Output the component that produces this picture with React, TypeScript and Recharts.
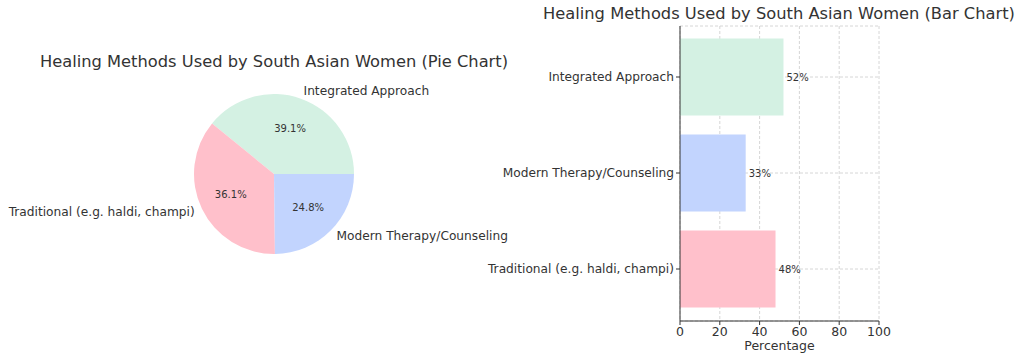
import {
  PieChart, Pie, Cell, BarChart, Bar, XAxis, YAxis, CartesianGrid, LabelList,
} from 'recharts';

const methods = [
  'Traditional (e.g. haldi, champi)',
  'Modern Therapy/Counseling',
  'Integrated Approach',
];
const percentages = [48, 33, 52];
const colors = ['#ffc0cb', '#c2d4fe', '#d4f1e3'];
// pie slices go counter-clockwise from 3 o'clock in this order
const pieOrder = [2, 0, 1];
const xTicks = [0, 20, 40, 60, 80, 100];

const FONT = '"DejaVu Sans", Verdana, sans-serif';
const TEXT = '#333333';

const pieData = pieOrder.map(i => ({ name: methods[i], value: percentages[i], color: colors[i] }));
// vertical bar chart lists first row at top
const barData = methods.map((m, i) => ({ name: m, value: percentages[i], color: colors[i] })).reverse();

const RAD = Math.PI / 180;

const renderPieLabel = (p: any) => {
  const { cx, cy, midAngle, outerRadius, percent, name } = p;
  const cos = Math.cos(-midAngle * RAD);
  const sin = Math.sin(-midAngle * RAD);
  const ox = cx + outerRadius * 1.1 * cos;
  const oy = cy + outerRadius * 1.1 * sin;
  const ix = cx + outerRadius * 0.6 * cos;
  const iy = cy + outerRadius * 0.6 * sin;
  return (
    <g>
      <text x={ox} y={oy} textAnchor={cos >= 0 ? 'start' : 'end'} dominantBaseline="central"
        fontSize={12.2} fill={TEXT} fontFamily={FONT}>{name}</text>
      <text x={ix} y={iy} textAnchor="middle" dominantBaseline="central"
        fontSize={10} fill={TEXT} fontFamily={FONT}>{(percent * 100).toFixed(1)}%</text>
    </g>
  );
};

const CategoryTick = (p: any) => {
  const { x, y, payload } = p;
  return (
    <text x={x} y={y} textAnchor="end" dominantBaseline="central"
      fontSize={12.2} fill={TEXT} fontFamily={FONT}>{payload.value}</text>
  );
};

const Title = ({ text, center, top }: { text: string; center: number; top: number }) => (
  <div style={{
    position: 'absolute', left: center - 300, width: 600, top, textAlign: 'center',
    fontFamily: FONT, fontSize: 16.3, lineHeight: '20px', color: TEXT, whiteSpace: 'nowrap',
  }}>{text}</div>
);

export default function App() {
  return (
    <div style={{ position: 'absolute', left: 0, top: 0, width: 1024, height: 361, background: '#fff', overflow: 'hidden' }}>
      <div style={{ position: 'absolute', left: 0, top: 0 }}>
        <PieChart width={540} height={361} margin={{ top: 0, right: 0, bottom: 0, left: 0 }}>
          <Pie
            data={pieData}
            dataKey="value"
            nameKey="name"
            cx={274}
            cy={174}
            outerRadius={80}
            startAngle={0}
            endAngle={360}
            stroke="none"
            label={renderPieLabel}
            labelLine={false}
            isAnimationActive={false}
          >
            {pieData.map(d => <Cell key={d.name} fill={d.color} />)}
          </Pie>
        </PieChart>
      </div>
      <Title text="Healing Methods Used by South Asian Women (Pie Chart)" center={274} top={52} />
      <div style={{ position: 'absolute', left: 480, top: 0 }}>
        <BarChart
          width={544}
          height={361}
          data={barData}
          layout="vertical"
          margin={{ top: 26, right: 145, bottom: 10, left: 0 }}
          barCategoryGap="10%"
        >
          <XAxis
            type="number"
            domain={[0, 100]}
            ticks={xTicks}
            height={30}
            stroke={TEXT}
            tickSize={4}
            tick={{ fill: TEXT, fontSize: 12.5, fontFamily: FONT }}
            label={{ value: 'Percentage', position: 'insideBottom', offset: 1, fill: TEXT, fontSize: 12.5, fontFamily: FONT }}
          />
          <YAxis
            type="category"
            dataKey="name"
            width={200}
            stroke={TEXT}
            tickSize={4}
            padding={{ top: 3, bottom: 4 }}
            tick={<CategoryTick />}
          />
          <Bar dataKey="value" isAnimationActive={false}>
            {barData.map(d => <Cell key={d.name} fill={d.color} />)}
            <LabelList dataKey="value" position="right" offset={3}
              formatter={(v: any) => `${v}%`}
              style={{ fill: TEXT, fontSize: 10, fontFamily: FONT }} />
          </Bar>
          <CartesianGrid stroke="#cccccc" strokeDasharray="3 2" strokeWidth={0.8} />
        </BarChart>
      </div>
      <Title text="Healing Methods Used by South Asian Women (Bar Chart)" center={779} top={4} />
    </div>
  );
}
